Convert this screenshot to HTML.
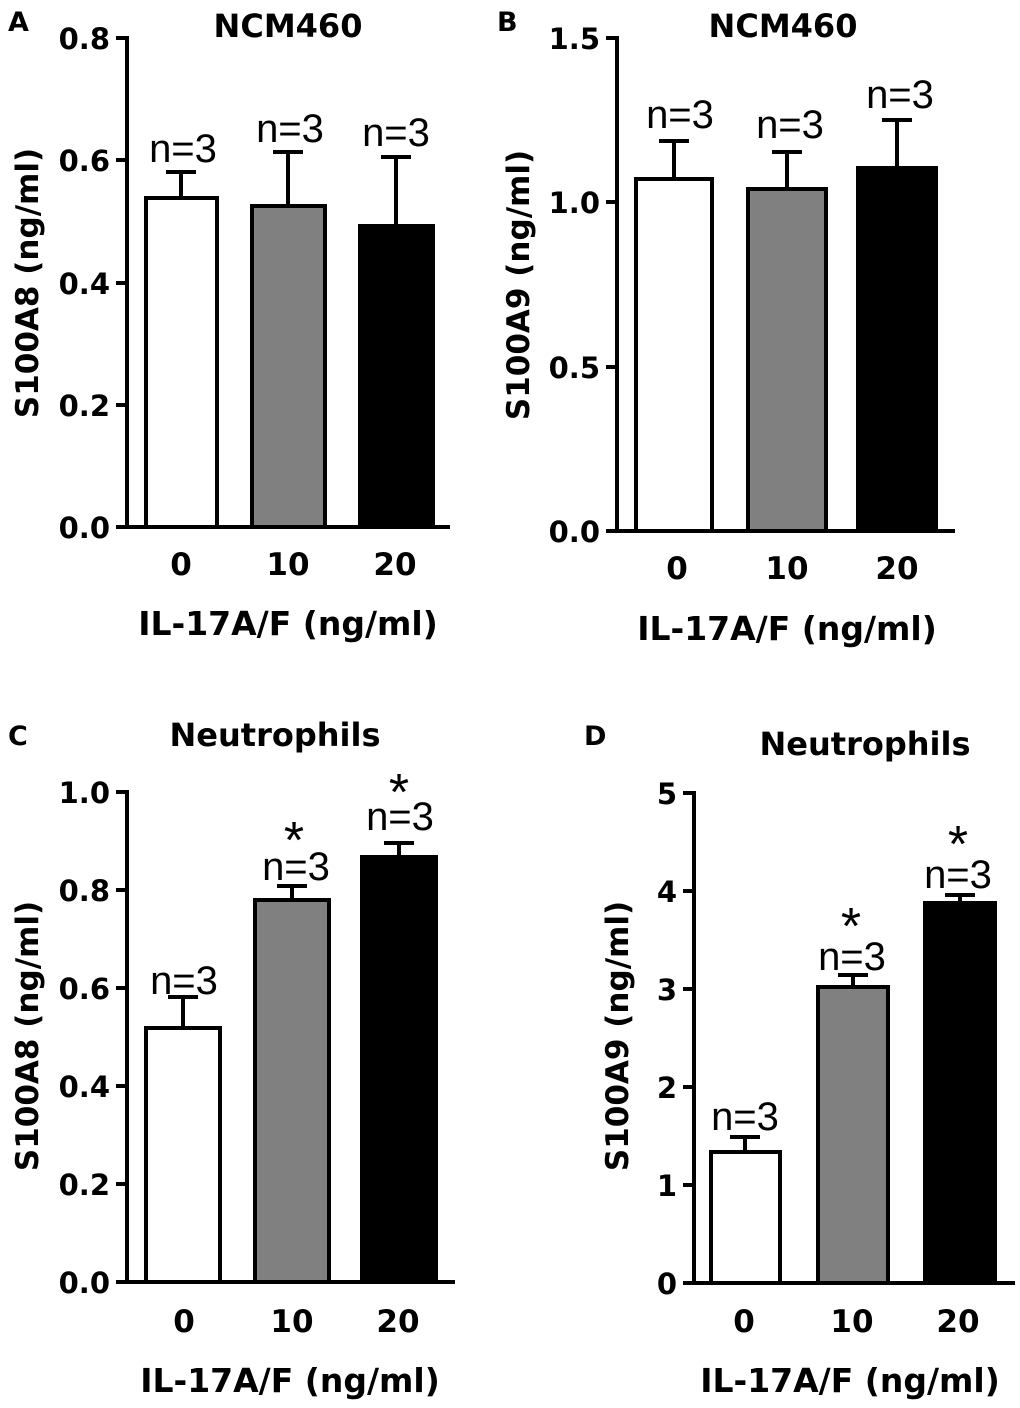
<!DOCTYPE html>
<html><head><meta charset="utf-8"><style>
body{margin:0;background:#fff}
svg text{font-family:"DejaVu Sans",Verdana,sans-serif;font-weight:bold}
svg text.n{font-family:"Liberation Sans",Arial,sans-serif;font-weight:normal}
</style></head><body>
<svg width="1020" height="1403" viewBox="0 0 1020 1403" xmlns="http://www.w3.org/2000/svg">
<g stroke="#000" stroke-width="4" fill="none">
<path d="M127 36V527H450"/>
<path d="M116 38H127M116 160H127M116 283H127M116 405H127M116 527H127"/>
<rect x="146" y="198" width="71" height="329" fill="#fff"/>
<rect x="252" y="206" width="73" height="321" fill="#808080"/>
<rect x="360" y="226" width="73" height="301" fill="#000"/>
<path d="M181 198V172M166 172H196M288 206V152M273 152H303M396 226V157M381 157H411"/>
<path d="M617 36V531H955"/>
<path d="M606 38H617M606 202H617M606 367H617M606 531H617"/>
<rect x="636" y="179" width="76" height="352" fill="#fff"/>
<rect x="748" y="189" width="78" height="342" fill="#808080"/>
<rect x="858" y="168" width="78" height="363" fill="#000"/>
<path d="M674 179V141M659 141H689M787 189V152M772 152H802M897 168V120M882 120H912"/>
<path d="M127 790V1282H455"/>
<path d="M116 792H127M116 890H127M116 988H127M116 1086H127M116 1184H127M116 1282H127"/>
<rect x="146" y="1028" width="74" height="254" fill="#fff"/>
<rect x="255" y="900" width="74" height="382" fill="#808080"/>
<rect x="362" y="857" width="74" height="425" fill="#000"/>
<path d="M183 1028V997M168 997H198M292 900V886M277 886H307M399 857V843M384 843H414"/>
<path d="M694 791V1283H1015"/>
<path d="M683 793H694M683 891H694M683 989H694M683 1087H694M683 1185H694M683 1283H694"/>
<rect x="711" y="1152" width="69" height="131" fill="#fff"/>
<rect x="818" y="987" width="70" height="296" fill="#808080"/>
<rect x="925" y="903" width="70" height="380" fill="#000"/>
<path d="M745 1152V1137M730 1137H760M853 987V975M838 975H868M960 903V895M945 895H975"/>
</g>
<g font-size="29" text-anchor="end">
<text x="110" y="49">0.8</text><text x="110" y="171">0.6</text><text x="110" y="294">0.4</text><text x="110" y="416">0.2</text><text x="110" y="538">0.0</text>
<text x="600" y="49">1.5</text><text x="600" y="213">1.0</text><text x="600" y="378">0.5</text><text x="600" y="542">0.0</text>
<text x="110" y="803">1.0</text><text x="110" y="901">0.8</text><text x="110" y="999">0.6</text><text x="110" y="1097">0.4</text><text x="110" y="1195">0.2</text><text x="110" y="1293">0.0</text>
<text x="677" y="804">5</text><text x="677" y="902">4</text><text x="677" y="1000">3</text><text x="677" y="1098">2</text><text x="677" y="1196">1</text><text x="677" y="1294">0</text>
</g>
<g font-size="31" text-anchor="middle">
<text x="181" y="575">0</text><text x="288" y="575">10</text><text x="395" y="575">20</text>
<text x="677" y="579">0</text><text x="787" y="579">10</text><text x="897" y="579">20</text>
<text x="184" y="1332">0</text><text x="292" y="1332">10</text><text x="398" y="1332">20</text>
<text x="744" y="1332">0</text><text x="852" y="1332">10</text><text x="958" y="1332">20</text>
<text x="288" y="635" font-size="33">IL-17A/F (ng/ml)</text>
<text x="787" y="640" font-size="33">IL-17A/F (ng/ml)</text>
<text x="290" y="1392" font-size="33">IL-17A/F (ng/ml)</text>
<text x="850" y="1392" font-size="33">IL-17A/F (ng/ml)</text>
<text x="288" y="37" font-size="32">NCM460</text>
<text x="783" y="37" font-size="32">NCM460</text>
<text x="275" y="746" font-size="32">Neutrophils</text>
<text x="865" y="755" font-size="32">Neutrophils</text>
<text transform="translate(38 283) rotate(-90)" font-size="31">S100A8 (ng/ml)</text>
<text transform="translate(529 285) rotate(-90)" font-size="31">S100A9 (ng/ml)</text>
<text transform="translate(38 1036) rotate(-90)" font-size="31">S100A8 (ng/ml)</text>
<text transform="translate(628 1036) rotate(-90)" font-size="31">S100A9 (ng/ml)</text>
</g>
<g font-size="27">
<text x="8" y="31">A</text><text x="497" y="31">B</text><text x="8" y="745">C</text><text x="584" y="745">D</text>
</g>
<g font-size="40" text-anchor="middle">
<text class="n" x="183" y="162">n=3</text><text class="n" x="290" y="142">n=3</text><text class="n" x="396" y="146">n=3</text>
<text class="n" x="680" y="128">n=3</text><text class="n" x="790" y="138">n=3</text><text class="n" x="900" y="108">n=3</text>
<text class="n" x="184" y="994">n=3</text><text class="n" x="296" y="880">n=3</text><text class="n" x="400" y="830">n=3</text>
<text class="n" x="745" y="1130">n=3</text><text class="n" x="852" y="970">n=3</text><text class="n" x="958" y="888">n=3</text>
<text class="n" x="294" y="858" font-size="52">*</text><text class="n" x="399" y="810" font-size="52">*</text>
<text class="n" x="851" y="944" font-size="52">*</text><text class="n" x="958" y="862" font-size="52">*</text>
</g>
</svg>
</body></html>
